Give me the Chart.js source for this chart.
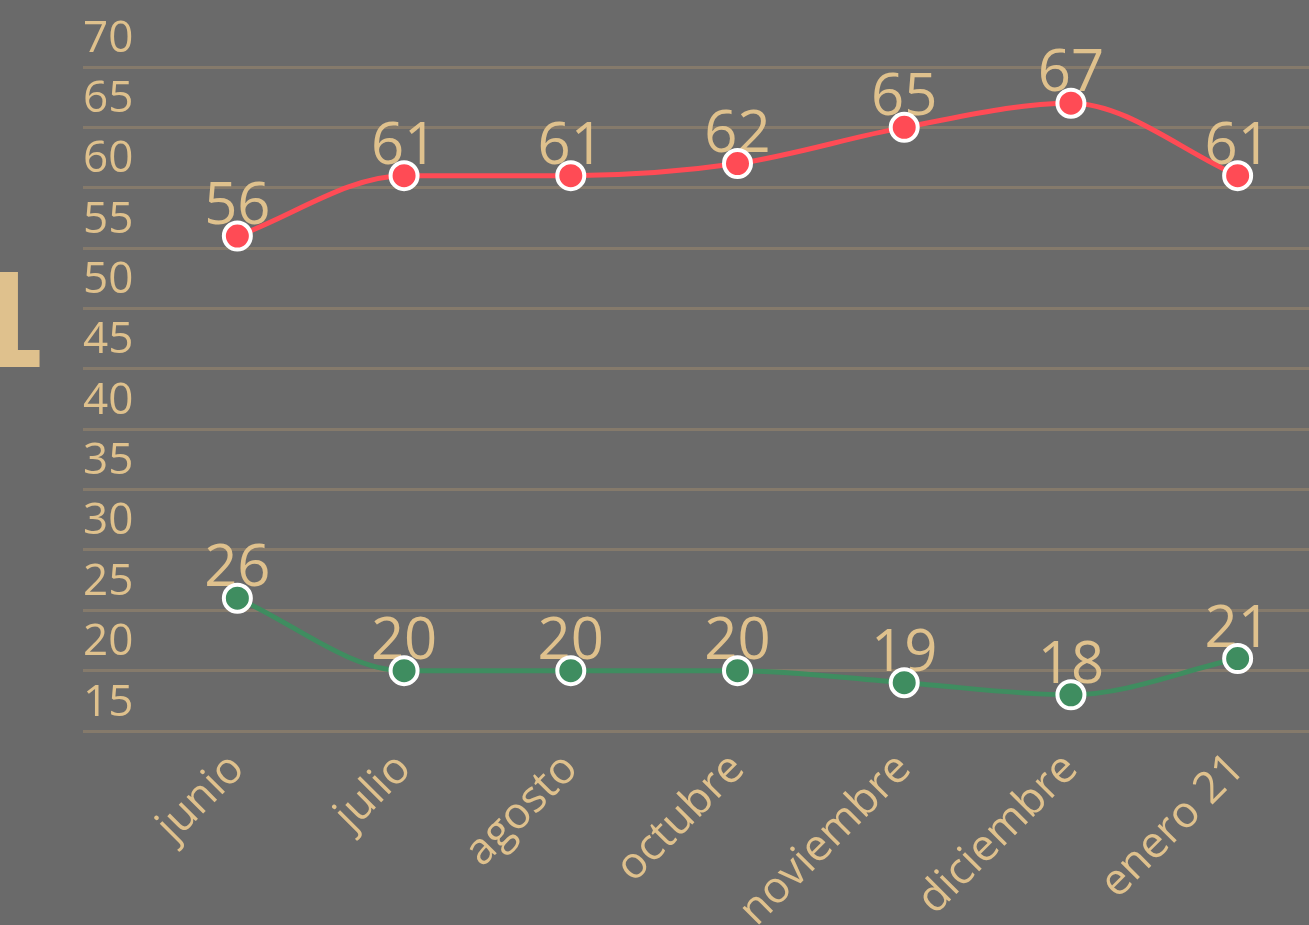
<!DOCTYPE html>
<html>
<head>
<meta charset="utf-8">
<script src="https://cdn.jsdelivr.net/npm/chart.js@4.4.1/dist/chart.umd.min.js"></script>
<style>
  html, body { margin: 0; padding: 0; background: #6a6a6a; overflow: hidden; }
  #caja { position: relative; width: 1309px; height: 925px; overflow: hidden; }
  #miGrafico { position: absolute; left: 0; top: 0; }
  #marca { position: absolute; left: -42px; top: 257px; font-family: "DejaVu Sans"; font-weight: bold;
           font-size: 130px; line-height: 1; color: #dfc18d; }
</style>
</head>
<body>
<div id="caja">
  <div id="marca">1</div>
  <!-- el lienzo es un poco mas ancho que la ventana, el borde derecho queda recortado -->
  <canvas id="miGrafico" width="1321" height="925"></canvas>
</div>
<script>
// datos del grafico
var meses = ['junio', 'julio', 'agosto', 'octubre', 'noviembre', 'diciembre', 'enero 21'];
var serieRoja = [56, 61, 61, 62, 65, 67, 61];
var serieVerde = [26, 20, 20, 20, 19, 18, 21];
var marcasY = [15, 20, 25, 30, 35, 40, 45, 50, 55, 60, 65, 70];

var colorTexto = '#dfc18d';
var fuente = '"Open Sans", sans-serif';

// etiquetas con el valor encima de cada punto
var etiquetasValor = {
  id: 'etiquetasValor',
  beforeDatasetsDraw: function(chart) {
    var ctx = chart.ctx;
    ctx.save();
    ctx.fillStyle = colorTexto;
    ctx.font = '58px ' + fuente;
    ctx.textAlign = 'center';
    ctx.textBaseline = 'alphabetic';
    chart.data.datasets.forEach(function(ds, i) {
      var meta = chart.getDatasetMeta(i);
      meta.data.forEach(function(pt, j) {
        ctx.fillText(ds.data[j], pt.x, pt.y - 12);
      });
    });
    ctx.restore();
  }
};

var lienzo = document.getElementById('miGrafico');
var grafico = new Chart(lienzo, {
  type: 'line',
  data: {
    labels: meses,
    datasets: [
      {
        data: serieRoja,
        borderColor: '#ff4b55',
        backgroundColor: '#ff4b55',
        pointBackgroundColor: '#ff4b55',
        pointBorderColor: '#ffffff',
        borderWidth: 5,
        pointRadius: 13.5,
        pointBorderWidth: 4,
        cubicInterpolationMode: 'monotone'
      },
      {
        data: serieVerde,
        borderColor: '#3f8d60',
        backgroundColor: '#3f8d60',
        pointBackgroundColor: '#3f8d60',
        pointBorderColor: '#ffffff',
        borderWidth: 5,
        pointRadius: 13.5,
        pointBorderWidth: 4,
        cubicInterpolationMode: 'monotone'
      }
    ]
  },
  options: {
    responsive: false,
    animation: false,
    layout: { autoPadding: false, padding: { left: 83, right: 0, top: 67, bottom: 0 } },
    plugins: {
      legend: { display: false },
      tooltip: { enabled: false }
    },
    scales: {
      x: {
        offset: true,
        grid: { display: false },
        border: { display: false },
        ticks: {
          color: colorTexto,
          font: { family: fuente, size: 44 },
          minRotation: 45,
          maxRotation: 45,
          padding: 4
        },
        afterFit: function(escala) {
          escala.height = 194;
          escala.paddingLeft = 0;
          escala.paddingRight = 0;
        }
      },
      y: {
        min: 15,
        max: 70,
        border: { display: false },
        grid: { color: '#857a6b', lineWidth: 3, tickLength: 71, drawTicks: true },
        afterBuildTicks: function(escala) {
          escala.ticks = marcasY.map(function(v) { return { value: v }; });
        },
        ticks: {
          color: colorTexto,
          font: { family: fuente, size: 44 },
          crossAlign: 'far',
          labelOffset: -28,
          padding: 0
        },
        afterFit: function(escala) { escala.width = 71; }
      }
    }
  },
  plugins: [etiquetasValor]
});
</script>
</body>
</html>
